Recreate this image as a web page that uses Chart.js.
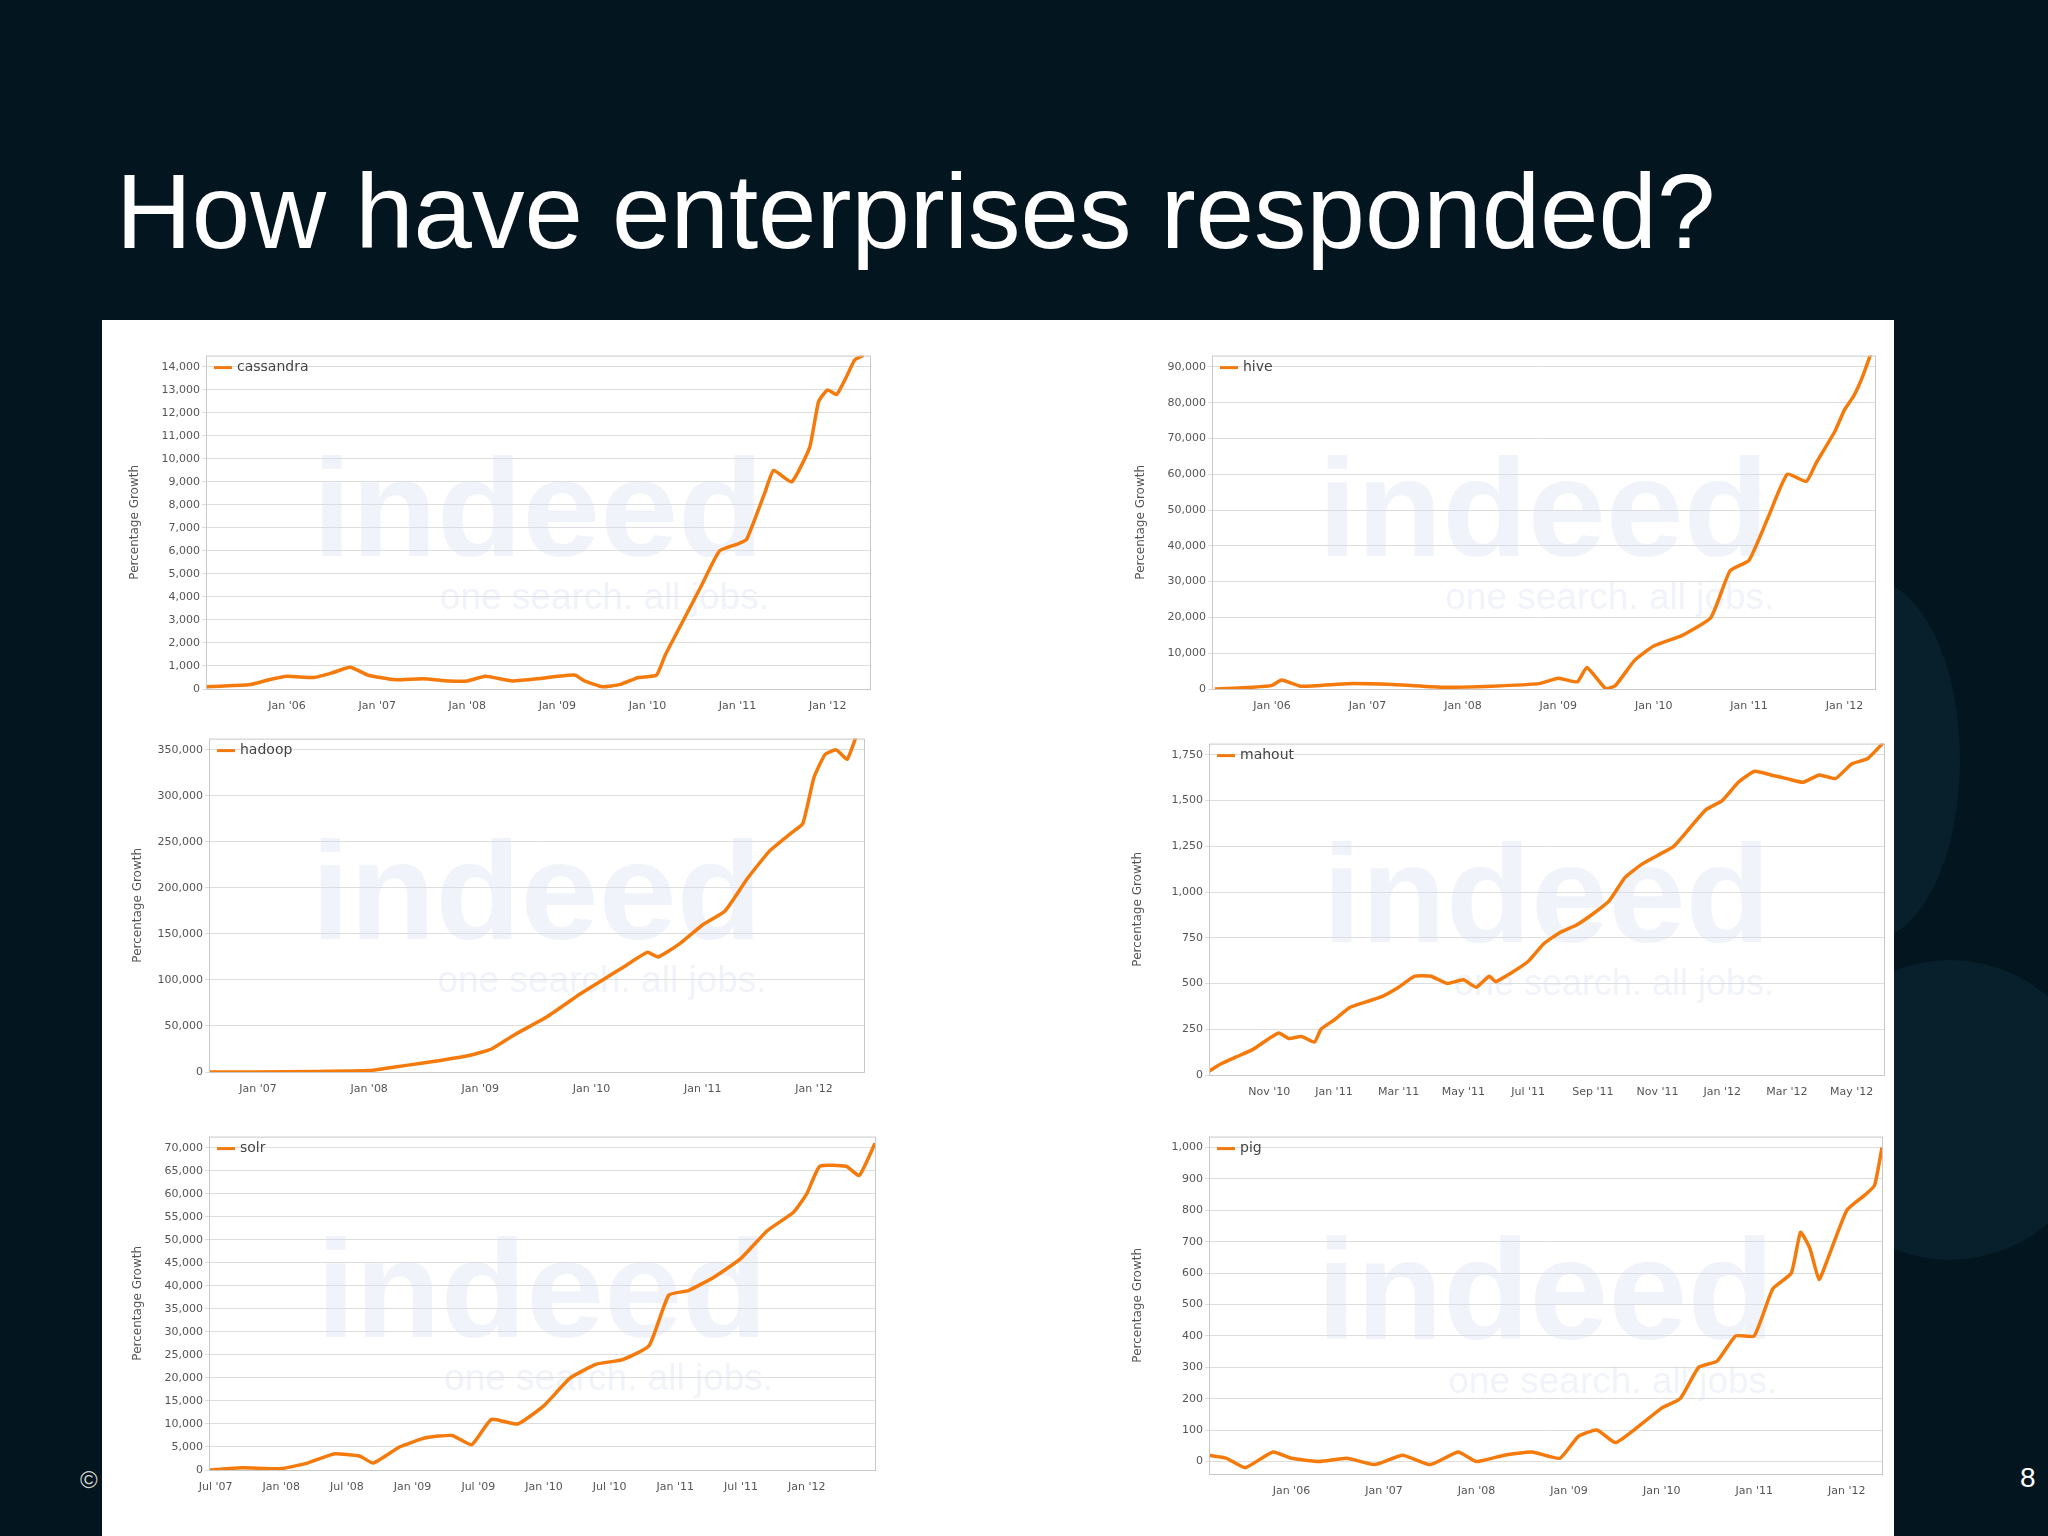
<!DOCTYPE html>
<html><head><meta charset="utf-8">
<script src="https://cdn.jsdelivr.net/npm/chart.js@4"></script>
<style>
html,body{margin:0;padding:0;width:2048px;height:1536px;overflow:hidden;background:#03151f;font-family:"Liberation Sans",Arial,sans-serif}
#title{position:absolute;left:116px;top:152px;color:#fff;font-size:105px;white-space:nowrap}
#panel{position:absolute;left:102px;top:320px;width:1792px;height:1216px;background:#fff}
.circ{position:absolute;border-radius:50%;background:#07202c}
canvas{position:absolute}
.sm{position:absolute;color:#ccc;font-size:24px}
</style></head><body>
<div class="circ" style="left:1780px;top:580px;width:180px;height:360px"></div>
<div class="circ" style="left:1800px;top:960px;width:300px;height:300px"></div>
<div id="title">How have enterprises responded?</div>
<div class="sm" style="left:80px;top:1466px">©</div>
<div class="sm" style="left:2020px;top:1462px;color:#fff;font-size:28px">8</div>
<div id="panel"></div>
<canvas id="c1"></canvas><canvas id="c2"></canvas><canvas id="c3"></canvas>
<canvas id="c4"></canvas><canvas id="c5"></canvas><canvas id="c6"></canvas>
<script>
// ---- data ----
const cassandraX=[2005.1,2005.4,2005.6,2005.8,2006.0,2006.3,2006.5,2006.7,2006.9,2007.2,2007.5,2007.8,2008.0,2008.2,2008.5,2008.8,2009.0,2009.2,2009.3,2009.5,2009.7,2009.9,2010.1,2010.2,2010.4,2010.6,2010.8,2011.0,2011.1,2011.3,2011.4,2011.6,2011.8,2011.9,2012.0,2012.1,2012.2,2012.3,2012.4];
const cassandraY=[100,150,200,400,550,500,700,950,600,400,450,350,350,550,350,450,550,600,350,100,200,500,600,1500,3000,4500,6000,6300,6500,8500,9500,9000,10500,12500,13000,12800,13500,14300,14500];
const cassandraTicks=[0,1000,2000,3000,4000,5000,6000,7000,8000,9000,10000,11000,12000,13000,14000];
const hiveX=[2005.4,2005.8,2006.0,2006.1,2006.3,2006.8,2007.3,2007.8,2008.3,2008.8,2009.0,2009.2,2009.3,2009.5,2009.6,2009.8,2010.0,2010.3,2010.6,2010.8,2011.0,2011.2,2011.4,2011.6,2011.7,2011.9,2012.0,2012.1,2012.2,2012.32];
const hiveY=[0,500,1000,2500,800,1500,1200,500,800,1500,3000,2000,6000,0,1000,8000,12000,15000,20000,33000,36000,48000,60000,58000,63000,72000,78000,82000,88000,97000];
const hiveTicks=[0,10000,20000,30000,40000,50000,60000,70000,80000,90000];
const hadoopX=[2006.56,2007.0,2007.5,2008.0,2008.2,2008.5,2008.9,2009.1,2009.3,2009.6,2009.9,2010.1,2010.3,2010.5,2010.6,2010.8,2011.0,2011.2,2011.4,2011.6,2011.8,2011.9,2012.0,2012.1,2012.2,2012.3,2012.45];
const hadoopY=[0,0,500,1500,5000,10000,18000,25000,40000,60000,85000,100000,115000,130000,125000,140000,160000,175000,210000,240000,260000,270000,320000,345000,350000,340000,390000];
const hadoopTicks=[0,50000,100000,150000,200000,250000,300000,350000];
const mahoutX=[8.14,8.5,9,9.5,10,10.3,10.6,11,11.4,11.6,12,12.5,13,13.5,14,14.5,15,15.5,16,16.4,16.8,17,17.5,18,18.5,19,19.5,20,20.5,21,21.5,22,22.5,23,23.5,24,24.5,25,25.5,26,26.5,27,27.5,28,28.5,29];
const mahoutY=[20,60,100,140,200,230,200,210,180,250,300,370,400,430,480,540,540,500,520,480,540,510,560,620,720,780,820,880,950,1080,1150,1200,1250,1350,1450,1500,1600,1660,1640,1620,1600,1640,1620,1700,1730,1820];
const mahoutTicks=[0,250,500,750,1000,1250,1500,1750];
const solrX=[2007.45,2007.7,2008.0,2008.2,2008.4,2008.6,2008.7,2008.9,2009.1,2009.3,2009.45,2009.6,2009.8,2010.0,2010.2,2010.4,2010.6,2010.8,2010.95,2011.1,2011.3,2011.5,2011.7,2011.9,2012.0,2012.1,2012.3,2012.4,2012.52];
const solrY=[0,500,300,1500,3500,3000,1500,5000,7000,7500,5500,11000,10000,14000,20000,23000,24000,27000,38000,39000,42000,46000,52000,56000,60000,66000,66000,64000,71000];
const solrTicks=[0,5000,10000,15000,20000,25000,30000,35000,40000,45000,50000,55000,60000,65000,70000];
const pigX=[2005.1,2005.3,2005.5,2005.8,2006.0,2006.3,2006.6,2006.9,2007.2,2007.5,2007.8,2008.0,2008.3,2008.6,2008.9,2009.1,2009.3,2009.5,2009.7,2010.0,2010.2,2010.4,2010.6,2010.8,2011.0,2011.2,2011.4,2011.5,2011.6,2011.7,2011.8,2012.0,2012.2,2012.3,2012.38];
const pigY=[20,10,-20,30,10,0,10,-10,20,-10,30,0,20,30,10,80,100,60,100,170,200,300,320,400,400,550,600,730,680,580,650,800,850,880,1000];
const pigTicks=[0,100,200,300,400,500,600,700,800,900,1000];
const yearTicks06=[2006,2007,2008,2009,2010,2011,2012];
const yearTicks07=[2007,2008,2009,2010,2011,2012];
const halfTicks=[2007.5,2008,2008.5,2009,2009.5,2010,2010.5,2011,2011.5,2012];
const mahoutXTicks=[10,12,14,16,18,20,22,24,26,28];
const monthNames=["Jan","Feb","Mar","Apr","May","Jun","Jul","Aug","Sep","Oct","Nov","Dec"];

function yrLabel(v){const y=Math.floor(v+1e-6);const m=Math.round((v-y)*12);return monthNames[m]+" '"+String(y%100).padStart(2,'0');}
function moLabel(v){const y=2010+Math.floor(v/12);return monthNames[v%12]+" '"+String(y%100).padStart(2,'0');}
function fmt(v){return v.toLocaleString('en-US');}

const deco={id:'deco',
 beforeDatasetsDraw(c){const a=c.chartArea,x=c.ctx;x.save();x.beginPath();x.rect(a.left,a.top,a.width,a.height);x.clip();
  x.fillStyle='rgba(215,222,240,0.35)';x.font='bold '+Math.round(a.height*0.42)+'px "Liberation Sans"';x.textAlign='center';
  x.fillText('indeed',a.left+a.width*0.5,a.top+a.height*0.6);
  x.font=Math.round(a.height*0.11)+'px "Liberation Sans"';x.fillText('one search. all jobs.',a.left+a.width*0.6,a.top+a.height*0.76);x.restore();},
 afterDraw(c){const a=c.chartArea,x=c.ctx;x.save();x.strokeStyle='#c8c8c8';x.lineWidth=1;x.strokeRect(a.left+0.5,a.top+0.5,a.width,a.height);
  x.strokeStyle='#f07a10';x.lineWidth=3;x.beginPath();x.moveTo(a.left+8,a.top+12);x.lineTo(a.left+26,a.top+12);x.stroke();
  x.fillStyle='#444';x.font='14px "DejaVu Sans"';x.textBaseline='middle';x.fillText(c.data.datasets[0].label,a.left+31,a.top+12);x.restore();}};

const W=80,H=28;
function make(id,px0,px1,py0,py1,name,xs,ys,yt,xt,xmin,xmax,xlab,ymin){
 const cv=document.getElementById(id);const w=(px1-px0)+W+4,h=(py1-py0)+H+4;
 cv.width=w;cv.height=h;cv.style.left=(px0-W)+'px';cv.style.top=(py0-3)+'px';
 new Chart(cv,{type:'line',plugins:[deco],
  data:{datasets:[{label:name,data:xs.map((v,i)=>({x:v,y:ys[i]})),borderColor:'#f57a0c',borderWidth:3.5,pointRadius:0,tension:0.15}]},
  options:{responsive:false,animation:false,devicePixelRatio:1,layout:{padding:{top:3,right:3,left:0,bottom:0}},
   plugins:{legend:{display:false},tooltip:{enabled:false}},
   scales:{
    x:{type:'linear',min:xmin,max:xmax,afterBuildTicks:s=>{s.ticks=xt.map(v=>({value:v}))},afterFit:s=>{s.height=H},
       grid:{display:false},border:{display:false},ticks:{color:'#555',font:{size:11,family:'DejaVu Sans'},maxRotation:0,autoSkip:false,callback:xlab}},
    y:{min:ymin!==undefined?ymin:0,max:yt[yt.length-1]*1.035,afterBuildTicks:s=>{s.ticks=yt.map(v=>({value:v}))},afterFit:s=>{s.width=W},
       grid:{color:'#dddddd',borderDash:[2,2],drawTicks:true,tickLength:4},border:{display:false},
       ticks:{color:'#555',font:{size:11,family:'DejaVu Sans'},callback:fmt,padding:2},
       title:{display:true,text:'Percentage Growth',color:'#555',font:{size:12,family:'DejaVu Sans'},padding:2}}}}});
}
make('c1',206,869,350,688,'cassandra',cassandraX,cassandraY,cassandraTicks,yearTicks06,2005.1,2012.47,yrLabel);
make('c2',1212,1874,350,688,'hive',hiveX,hiveY,hiveTicks,yearTicks06,2005.37,2012.32,yrLabel);
make('c3',209,863,733,1071,'hadoop',hadoopX,hadoopY,hadoopTicks,yearTicks07,2006.56,2012.45,yrLabel);
make('c4',1209,1883,738,1074,'mahout',mahoutX,mahoutY,mahoutTicks,mahoutXTicks,8.14,29.0,moLabel);
make('c5',209,874,1131,1469,'solr',solrX,solrY,solrTicks,halfTicks,2007.45,2012.52,yrLabel);
make('c6',1209,1881,1131,1473,'pig',pigX,pigY,pigTicks,yearTicks06,2005.11,2012.38,yrLabel,-40);
</script></body></html>
